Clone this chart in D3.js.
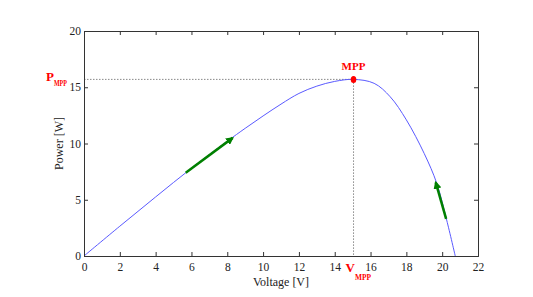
<!DOCTYPE html>
<html>
<head>
<meta charset="utf-8">
<script src="https://cdn.jsdelivr.net/npm/d3@7"></script>
<style>
  body { margin: 0; background: #fff; }
  text { font-family: "Liberation Serif", "DejaVu Serif", serif; }
</style>
</head>
<body>
<script>
// Curva P-V
var voltaje = [0, 2, 4, 6, 8, 9, 10, 11, 12, 13, 14, 15.05, 16.2, 17.1, 18, 19, 19.7, 20.25, 20.73]
var potencia = [0, 2.65, 5.25, 7.8, 10.2, 11.35, 12.45, 13.5, 14.45, 15.1, 15.52, 15.7, 15.35, 14.15, 12.1, 9.1, 6.45, 3.2, 0]

// Punto de máxima potencia
var vMpp = 15.05, pMpp = 15.7

// Flechas (cola -> punta) en coordenadas de datos
var flechas = [
    {x1: 5.68, y1: 7.4, x2: 8.3, y2: 10.5},
    {x1: 20.22, y1: 3.3, x2: 19.64, y2: 6.55}
]

var ticksX = [0, 2, 4, 6, 8, 10, 12, 14, 16, 18, 20, 22]
var ticksY = [0, 5, 10, 15, 20]

var margin = {top: 31, right: 55, bottom: 41, left: 84},
    width = 533 - margin.left - margin.right,
    height = 297 - margin.top - margin.bottom;

var svg = d3.select("body")
    .append("svg")
    .attr("width", 533)
    .attr("height", 297)
    .append("g")
    .attr("transform", "translate(" + margin.left + "," + margin.top + ")");

var x = d3.scaleLinear().domain([0, 22]).range([0, width])
var y = d3.scaleLinear().domain([0, 20]).range([height, 0])

var datos = voltaje.map(function(v, i) { return {v: v, p: potencia[i]} })

// Líneas punteadas del MPP
svg.append("line")
    .attr("x1", 0).attr("x2", x(vMpp))
    .attr("y1", y(pMpp)).attr("y2", y(pMpp))
    .attr("stroke", "#888").attr("stroke-width", 1)
    .attr("stroke-dasharray", "1.5,1.5")
svg.append("line")
    .attr("x1", x(vMpp)).attr("x2", x(vMpp))
    .attr("y1", y(pMpp)).attr("y2", height)
    .attr("stroke", "#888").attr("stroke-width", 1)
    .attr("stroke-dasharray", "1.5,1.5")

// Curva
svg.append("path")
    .datum(datos)
    .attr("fill", "none")
    .attr("stroke", "#5a5aff")
    .attr("stroke-width", 1)
    .attr("d", d3.line()
        .x(function(d) { return x(d.v) })
        .y(function(d) { return y(d.p) })
        .curve(d3.curveCatmullRom.alpha(0.5)))

// Flechas verdes
svg.append("defs").append("marker")
    .attr("id", "punta")
    .attr("viewBox", "0 0 10 10")
    .attr("refX", 8).attr("refY", 5)
    .attr("markerWidth", 3.2).attr("markerHeight", 3.2)
    .attr("orient", "auto")
    .append("path")
    .attr("d", "M0,0 L10,5 L0,10 z")
    .attr("fill", "#008000")

svg.selectAll(".flecha")
    .data(flechas)
    .enter()
    .append("line")
    .attr("class", "flecha")
    .attr("x1", function(d) { return x(d.x1) })
    .attr("y1", function(d) { return y(d.y1) })
    .attr("x2", function(d) { return x(d.x2) })
    .attr("y2", function(d) { return y(d.y2) })
    .attr("stroke", "#008000")
    .attr("stroke-width", 2.5)
    .attr("marker-end", "url(#punta)")

// Punto MPP
svg.append("ellipse")
    .attr("cx", x(vMpp)).attr("cy", y(pMpp))
    .attr("rx", 2.8).attr("ry", 3.5)
    .attr("fill", "red")

// Ejes estilo caja con ticks hacia dentro
var colorEje = "#333"
var ejeAbajo = svg.append("g")
    .attr("transform", "translate(0," + height + ")")
    .call(d3.axisBottom(x).tickValues(ticksX).tickSize(-4).tickPadding(7))
var ejeIzq = svg.append("g")
    .call(d3.axisLeft(y).tickValues(ticksY).tickSize(-4).tickPadding(3))
var ejeArriba = svg.append("g")
    .call(d3.axisTop(x).tickValues(ticksX).tickSize(-4).tickFormat(""))
var ejeDer = svg.append("g")
    .attr("transform", "translate(" + width + ",0)")
    .call(d3.axisRight(y).tickValues(ticksY).tickSize(-4).tickFormat(""))

;[ejeAbajo, ejeIzq, ejeArriba, ejeDer].forEach(function(g) {
    g.select(".domain").attr("stroke", colorEje).attr("stroke-width", 1)
    g.selectAll(".tick line").attr("stroke", colorEje)
    g.selectAll("text")
        .attr("fill", "#222")
        .style("font-size", "11.5px")
        .style("font-family", "Liberation Serif, serif")
})

// Etiquetas de ejes
svg.append("text")
    .attr("x", width / 2)
    .attr("y", height + 30)
    .attr("text-anchor", "middle")
    .style("font-size", "12px")
    .attr("fill", "#222")
    .text("Voltage [V]")

svg.append("text")
    .attr("transform", "translate(-21," + (height / 2) + ")rotate(-90)")
    .attr("text-anchor", "middle")
    .style("font-size", "12px")
    .attr("fill", "#222")
    .text("Power [W]")

// Etiquetas rojas
svg.append("text")
    .attr("x", x(vMpp))
    .attr("y", y(pMpp) - 9)
    .attr("text-anchor", "middle")
    .attr("fill", "red")
    .style("font-size", "11px")
    .style("font-weight", "bold")
    .text("MPP")

var pLabel = svg.append("text")
    .attr("x", -38)
    .attr("y", y(pMpp) + 2)
    .attr("fill", "red")
    .style("font-weight", "bold")
pLabel.append("tspan").style("font-size", "13px").text("P")
pLabel.append("tspan").style("font-size", "8px").attr("dy", 5)
    .attr("textLength", 13).attr("lengthAdjust", "spacingAndGlyphs").text("MPP")

var vLabel = svg.append("text")
    .attr("x", x(vMpp) - 8)
    .attr("y", height + 16)
    .attr("fill", "red")
    .style("font-weight", "bold")
vLabel.append("tspan").style("font-size", "13px").text("V")
vLabel.append("tspan").style("font-size", "8px").attr("dy", 8)
    .attr("textLength", 16).attr("lengthAdjust", "spacingAndGlyphs").text("MPP")
</script>
</body>
</html>
